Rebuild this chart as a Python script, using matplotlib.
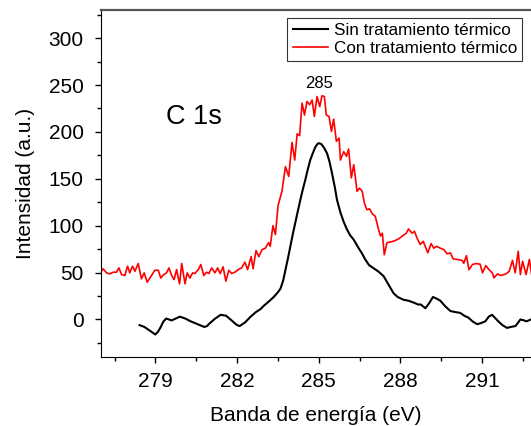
import numpy as np
import matplotlib.pyplot as plt

plt.rcParams['font.family'] = ['Liberation Sans', 'DejaVu Sans']

# C 1s spectrum without thermal treatment (smooth)
sin_x = [278.42, 278.6, 278.75, 278.9, 279.0, 279.1, 279.18, 279.3, 279.4, 279.5,
         279.6, 279.75, 279.9, 280.1, 280.3, 280.55, 280.8, 280.9, 281.0, 281.2,
         281.4, 281.6, 281.8, 282.0, 282.1, 282.3, 282.5, 282.7, 282.86, 283.0,
         283.2, 283.35, 283.5, 283.6, 283.7, 283.78, 283.87, 283.96, 284.05, 284.14,
         284.23, 284.33, 284.42, 284.51, 284.6, 284.69, 284.78, 284.88, 284.95, 285.0,
         285.1, 285.2, 285.31, 285.4, 285.49, 285.6, 285.67, 285.8, 285.92, 286.04,
         286.15, 286.29, 286.47, 286.6, 286.71, 286.85, 287.0, 287.2, 287.39, 287.55,
         287.75, 287.9, 288.12, 288.3, 288.49, 288.65, 288.75, 288.92, 289.05, 289.2,
         289.35, 289.47, 289.65, 289.84, 290.0, 290.2, 290.35, 290.5, 290.65, 290.82,
         290.95, 291.12, 291.25, 291.37, 291.5, 291.6, 291.75, 291.92, 292.05, 292.23,
         292.41, 292.55, 292.63, 292.8]
sin_y = [-6, -8, -11, -14, -16, -13, -9, -2, 1, 0,
         -1, 1, 3, 1, -2, -5, -8, -7, -4, 1,
         5, 4, -1, -6, -7, -3, 3, 8, 11, 15,
         20, 24, 29, 33, 42, 53, 65, 78, 91, 103,
         115, 128, 139, 149, 160, 170, 177, 184, 187, 188,
         187, 183, 177, 168, 156, 140, 128, 114, 104, 96,
         90, 85, 76, 70, 64, 58, 55, 51, 46, 38,
         28, 24, 21, 20, 18, 16, 16, 12, 17, 24,
         22, 20, 14, 9, 8, 7, 4, 2, -2, -5,
         -4, -2, 3, 5, 1, -2, -6, -9, -8, -7,
         0, -1, -2, 0]

# C 1s spectrum with thermal treatment (noisy)
con_x = [276.96, 277.08, 277.21, 277.33, 277.45, 277.57, 277.66, 277.76, 277.88, 277.98,
         278.06, 278.16, 278.25, 278.37, 278.49, 278.59, 278.70, 278.86, 278.98, 279.11,
         279.20, 279.31, 279.41, 279.50, 279.60, 279.69, 279.78, 279.89, 279.97, 280.09,
         280.17, 280.27, 280.37, 280.45, 280.58, 280.67, 280.78, 280.88, 280.97, 281.07,
         281.19, 281.29, 281.38, 281.49, 281.59, 281.70, 281.80, 281.92, 282.05, 282.17,
         282.29, 282.39, 282.52, 282.59, 282.70, 282.80, 282.92, 283.04, 283.16, 283.22,
         283.32, 283.41, 283.51, 283.65, 283.78, 283.90, 284.02, 284.12, 284.21, 284.30,
         284.39, 284.48, 284.57, 284.67, 284.76, 284.84, 284.94, 285.04, 285.12, 285.21,
         285.28, 285.38, 285.47, 285.55, 285.65, 285.75, 285.80, 285.92, 286.02, 286.10,
         286.20, 286.29, 286.41, 286.50, 286.60, 286.68, 286.77, 286.87, 286.96, 287.08,
         287.20, 287.27, 287.34, 287.41, 287.51, 287.69, 287.80, 287.94, 288.12, 288.22,
         288.30, 288.43, 288.52, 288.61, 288.73, 288.84, 289.01, 289.13, 289.23, 289.33,
         289.47, 289.60, 289.72, 289.84, 289.94, 290.09, 290.27, 290.33, 290.43, 290.52,
         290.65, 290.77, 290.93, 291.02, 291.14, 291.26, 291.38, 291.44, 291.57, 291.69,
         291.88, 292.00, 292.12, 292.22, 292.33, 292.41, 292.49, 292.62, 292.74, 292.84]
con_y = [49.7, 54, 49.7, 48.6, 50.4, 50.4, 55, 47.9, 46.9, 56.8,
         49.7, 56.8, 51.4, 59.7, 43.3, 49.7, 39.8, 46.9, 52.5, 52.5,
         44.2, 47.9, 49.7, 55, 46.9, 42.6, 53.2, 38, 59.7, 38,
         49.7, 44.2, 49.7, 49, 53.2, 58.6, 46.9, 50.4, 49, 55,
         49.7, 55, 49, 56.1, 40.8, 52.5, 49, 50.4, 53.2, 55,
         61.1, 53.2, 67, 54, 73.5, 67, 74.5, 76, 82, 78,
         100, 90.5, 121.7, 136.6, 163, 152.6, 188.8, 170, 198, 196,
         230.7, 218, 232.5, 229, 234, 216.5, 237.8, 227, 238.5, 237.8,
         218, 216.5, 200.5, 213.7, 190, 193.5, 170, 179, 174, 181.8,
         151, 165, 136.6, 140, 136.6, 124, 117, 118, 113, 110,
         96, 89, 92, 69, 82, 83, 84, 86, 90, 92,
         96.6, 92, 94, 87, 80, 83.4, 71, 81, 76, 78,
         76, 74.5, 70, 71, 64.6, 64, 63, 60, 68, 53,
         58.6, 59.6, 59, 49.7, 57.5, 53, 49.7, 44.4, 48.6, 46.9,
         48.6, 51.4, 63, 49.7, 72.7, 47.9, 62, 47.9, 64, 44.4]

x_ticks = [279, 282, 285, 288, 291]
y_ticks = [0, 50, 100, 150, 200, 250, 300]

fig = plt.figure(figsize=(5.31, 4.26), dpi=100)
ax = fig.add_axes([0.190, 0.162, 0.81, 0.8145])

ax.plot(sin_x, sin_y, color='black', lw=1.5, label='Sin tratamiento térmico')
ax.plot(con_x, con_y, color='red', lw=1.2, label='Con tratamiento térmico')

ax.set_xlim(277.0, 292.8)
ax.set_ylim(-40, 330)
ax.set_xticks(x_ticks)
ax.set_yticks(y_ticks)
ax.set_xticks(np.arange(277.5, 293, 1.5), minor=True)
ax.set_yticks(np.arange(-25, 330, 25), minor=True)
ax.tick_params(which='major', direction='out', length=4.5, width=1, labelsize=15)
ax.tick_params(axis='y', which='major', pad=8)
ax.tick_params(axis='x', which='major', pad=6)
ax.tick_params(which='minor', direction='out', length=3, width=1)
ax.tick_params(top=False, right=False)

ax.spines['top'].set_color('#555555')
ax.spines['top'].set_linewidth(1.6)
ax.spines['right'].set_visible(False)

ax.set_xlabel('Banda de energía (eV)', fontsize=15, labelpad=11)
ax.set_ylabel('Intensidad (a.u.)', fontsize=15, labelpad=10)

ax.text(279.4, 216, 'C 1s', fontsize=19.5, va='center', ha='left')
ax.text(285, 252, '285', fontsize=12, va='center', ha='center')

leg = ax.legend(loc='upper right', bbox_to_anchor=(0.979, 0.977), borderaxespad=0,
                fontsize=12.3, frameon=True, fancybox=False, borderpad=0.3,
                labelspacing=0.15, handlelength=2.1, handletextpad=0.3)
leg.get_frame().set_edgecolor('black')
leg.get_frame().set_linewidth(0.8)

fig.savefig('out.png', dpi=100)
